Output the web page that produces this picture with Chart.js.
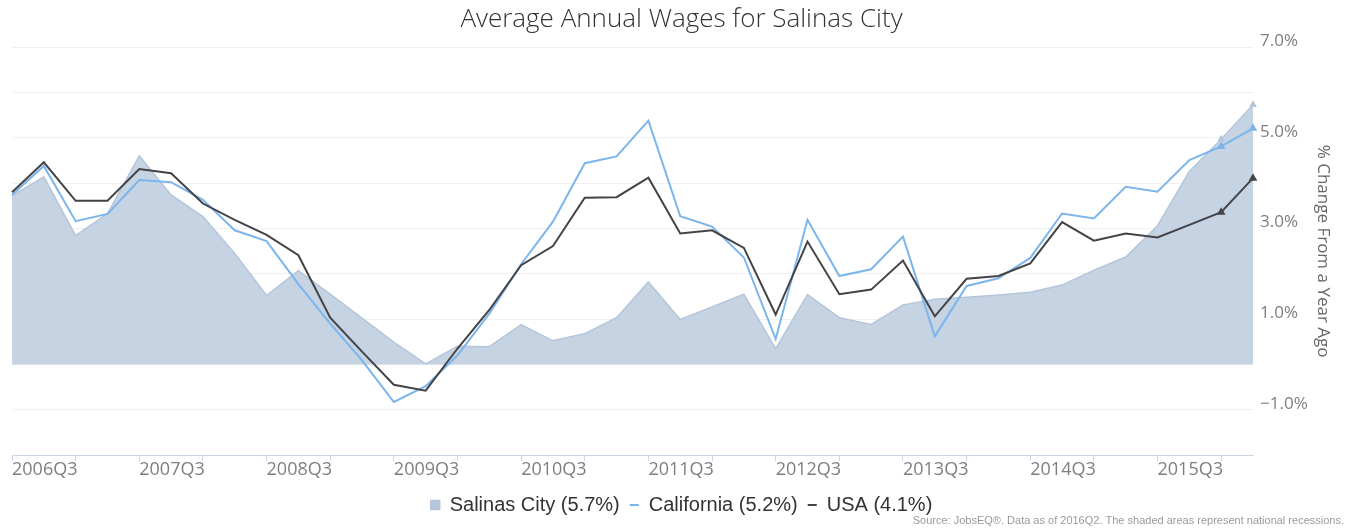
<!DOCTYPE html>
<html>
<head>
<meta charset="utf-8">
<title>Average Annual Wages for Salinas City</title>
<script src="https://cdn.jsdelivr.net/npm/chart.js@4/dist/chart.umd.min.js"></script>
<style>
  html, body { margin: 0; padding: 0; background: #fff; }
  #wrap { width: 1351px; height: 529px; position: relative; }
</style>
</head>
<body>
<div id="wrap"><canvas id="myChart"></canvas></div>
<script>
// quarters on the x axis, 2006Q3 .. 2016Q2
const quarters = [
  '2006Q3', '2006Q4', '2007Q1', '2007Q2', '2007Q3', '2007Q4', '2008Q1', '2008Q2',
  '2008Q3', '2008Q4', '2009Q1', '2009Q2', '2009Q3', '2009Q4', '2010Q1', '2010Q2',
  '2010Q3', '2010Q4', '2011Q1', '2011Q2', '2011Q3', '2011Q4', '2012Q1', '2012Q2',
  '2012Q3', '2012Q4', '2013Q1', '2013Q2', '2013Q3', '2013Q4', '2014Q1', '2014Q2',
  '2014Q3', '2014Q4', '2015Q1', '2015Q2', '2015Q3', '2015Q4', '2016Q1', '2016Q2'
];

// % change from a year ago
const salinas = [
  3.72, 4.14, 2.84, 3.33, 4.60, 3.74, 3.26, 2.45, 1.52, 2.07,
  1.55, 1.02, 0.49, 0.01, 0.40, 0.39, 0.88, 0.52, 0.68, 1.03,
  1.82, 0.99, 1.27, 1.55, 0.35, 1.54, 1.03, 0.88, 1.31, 1.44,
  1.48, 1.53, 1.59, 1.75, 2.08, 2.37, 3.06, 4.26, 4.97, 5.73
];
const california = [
  3.74, 4.38, 3.16, 3.32, 4.07, 4.02, 3.63, 2.96, 2.72, 1.77,
  0.90, 0.09, -0.83, -0.48, 0.20, 1.12, 2.21, 3.15, 4.44, 4.59,
  5.38, 3.27, 3.04, 2.36, 0.56, 3.19, 1.95, 2.10, 2.82, 0.62,
  1.73, 1.90, 2.35, 3.33, 3.22, 3.92, 3.81, 4.51, 4.81, 5.21
];
const usa = [
  3.80, 4.46, 3.61, 3.61, 4.31, 4.22, 3.55, 3.19, 2.86, 2.41,
  1.03, 0.28, -0.45, -0.58, 0.35, 1.20, 2.19, 2.61, 3.68, 3.69,
  4.12, 2.89, 2.96, 2.57, 1.10, 2.71, 1.55, 1.65, 2.29, 1.06,
  1.89, 1.95, 2.23, 3.14, 2.73, 2.89, 2.80, 3.08, 3.36, 4.11
];

const seriesNames = ['Salinas City (5.7%)', 'California (5.2%)', 'USA (4.1%)'];
const yTicks = [-1, 1, 3, 5, 7];
const sourceNote = 'Source: JobsEQ\u00AE. Data as of 2016Q2. The shaded areas represent national recessions.';

// little triangles on the last two points, like the original
const endMarker = (ctx) => ctx.dataIndex >= quarters.length - 2 ? 3 : 0;

const sourcePlugin = {
  id: 'sourceNote',
  afterDraw(chart) {
    const c = chart.ctx;
    c.save();
    c.font = '11px "Liberation Sans Narrow", "Liberation Sans", sans-serif';
    c.fillStyle = '#9a9a9a';
    c.textAlign = 'right';
    c.textBaseline = 'middle';
    c.fillText(sourceNote, 1344, 521);
    c.restore();
  }
};

const ctx = document.getElementById('myChart').getContext('2d');
window.myChartInstance = new Chart(ctx, {
  type: 'line',
  data: {
    labels: quarters,
    datasets: [{
      label: seriesNames[0],
      data: salinas,
      fill: 'origin',
      backgroundColor: 'rgb(197,211,227)',
      borderColor: 'rgb(182,198,218)',
      borderWidth: 1.5,
      pointRadius: endMarker,
      pointStyle: 'triangle',
      pointBackgroundColor: 'rgb(182,198,218)',
      tension: 0,
      order: 3
    }, {
      label: seriesNames[1],
      data: california,
      fill: false,
      backgroundColor: '#7cb5ec',
      borderColor: '#7cb5ec',
      borderWidth: 2,
      pointRadius: endMarker,
      pointStyle: 'triangle',
      tension: 0,
      order: 2
    }, {
      label: seriesNames[2],
      data: usa,
      fill: false,
      backgroundColor: '#434348',
      borderColor: '#434348',
      borderWidth: 2,
      pointRadius: endMarker,
      pointStyle: 'triangle',
      tension: 0,
      order: 1
    }]
  },
  options: {
    responsive: true,
    maintainAspectRatio: false,
    animation: false,
    layout: { padding: { left: 12, right: 0, top: 0, bottom: 4 } },
    plugins: {
      tooltip: { enabled: false },
      title: {
        display: true,
        text: 'Average Annual Wages for Salinas City',
        color: '#333',
        font: { family: 'Open Sans', size: 26, weight: 300, lineHeight: 1.2 },
        padding: { top: 4, bottom: 12 }
      },
      legend: {
        position: 'bottom',
        labels: {
          usePointStyle: true,
          pointStyleWidth: 9,
          boxHeight: 9,
          padding: 10,
          color: '#333',
          font: { family: 'Liberation Sans', size: 20 },
          sort: (a, b) => a.datasetIndex - b.datasetIndex,
          generateLabels: (chart) => {
            const items = Chart.defaults.plugins.legend.labels.generateLabels(chart);
            items.forEach(it => { it.pointStyle = it.datasetIndex === 0 ? 'rect' : 'line'; });
            return items;
          }
        }
      }
    },
    scales: {
      x: {
        grid: {
          drawOnChartArea: false,
          drawTicks: true,
          tickLength: 6,
          color: (c) => c.index % 2 === 0 ? '#ccd6eb' : 'rgba(0,0,0,0)'
        },
        border: { color: '#ccd6eb' },
        ticks: {
          autoSkip: false,
          maxRotation: 0,
          align: 'start',
          padding: 0,
          color: '#7f7f7f',
          font: { family: 'Open Sans', size: 18, lineHeight: 1 },
          callback: (v, i) => i % 4 === 0 ? quarters[i] : ''
        },
        afterFit: (s) => { s.height = 30; }
      },
      y: {
        position: 'right',
        min: -2,
        max: 7,
        grid: { color: '#f0f0f0', drawTicks: false },
        border: { display: false },
        ticks: {
          stepSize: 1,
          padding: 7,
          labelOffset: -6,
          color: '#7f7f7f',
          font: { family: 'Open Sans', size: 17 },
          callback: (v) => yTicks.includes(v) ? (v < 0 ? '\u2212' : '') + Math.abs(v).toFixed(1) + '%' : ''
        },
        title: {
          display: true,
          text: '% Change From a Year Ago',
          color: '#666',
          font: { family: 'Open Sans', size: 17 },
          padding: { top: 18, bottom: 0 }
        },
        afterFit: (s) => { s.width = 98; }
      }
    }
  },
  plugins: [sourcePlugin]
});
</script>
</body>
</html>
